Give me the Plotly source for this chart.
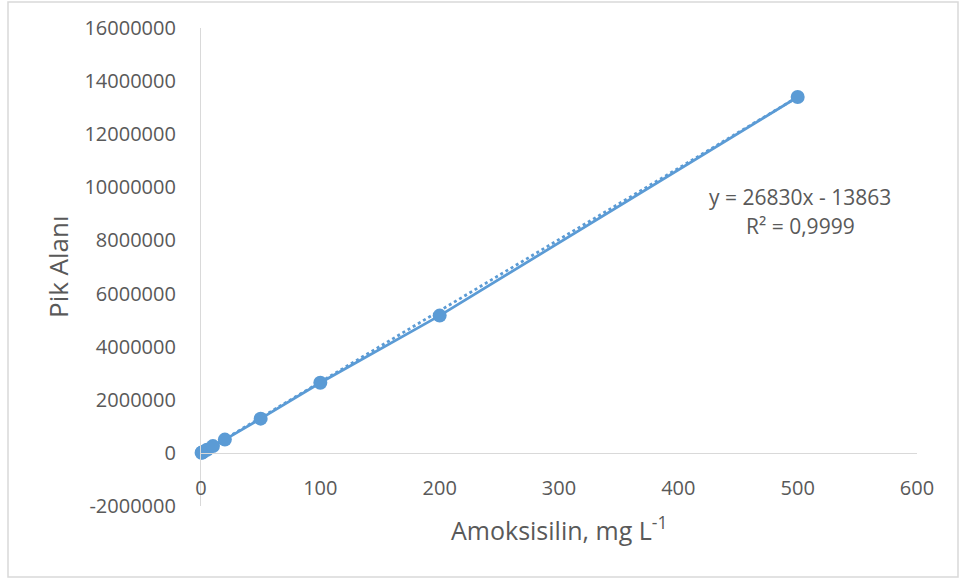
import plotly.graph_objects as go

# Calibration data: amoxicillin concentration (mg/L) vs. peak area
concentration = [0.5, 1, 2, 5, 10, 20, 50, 100, 200, 500]
peak_area = [5000, 15000, 45000, 120000, 255000, 500000, 1290000, 2640000, 5170000, 13400000]

# Linear trendline coefficients
slope = 26830
intercept = -13863
r_squared = "0,9999"

x_ticks = [0, 100, 200, 300, 400, 500, 600]
y_ticks = [-2000000, 0, 2000000, 4000000, 6000000, 8000000, 10000000,
           12000000, 14000000, 16000000]

blue = "#5B9BD5"
text_grey = "#595959"
axis_grey = "#D9D9D9"
font_family = "Open Sans"

trend_x = [min(concentration), max(concentration)]
trend_y = [slope * v + intercept for v in trend_x]

fig = go.Figure()
fig.add_trace(go.Scatter(
    x=trend_x, y=trend_y, mode="lines",
    line=dict(color=blue, width=2.75, dash="dot"),
    hoverinfo="skip", showlegend=False, cliponaxis=False,
))
fig.add_trace(go.Scatter(
    x=concentration, y=peak_area, mode="lines+markers",
    line=dict(color=blue, width=2.75),
    marker=dict(color=blue, size=14),
    showlegend=False, cliponaxis=False,
))

L, R, T, B = 201, 44, 28, 75
W, H = 961, 581
pw, ph = W - L - R, H - T - B


def px_to_paper(px, py):
    return (px - L) / pw, (H - B - py) / ph


bx0, by0 = px_to_paper(8, 577)
bx1, by1 = px_to_paper(958, 2)

fig.update_layout(
    width=W, height=H,
    margin=dict(l=L, r=R, t=T, b=B, pad=0),
    paper_bgcolor="white", plot_bgcolor="white",
    font=dict(family=font_family, color=text_grey, size=20),
    xaxis=dict(
        range=[0, 600], tickvals=x_ticks, ticktext=[str(v) for v in x_ticks],
        showgrid=False, zeroline=False, showline=True, linecolor=axis_grey,
        linewidth=1.2, ticks="", anchor="free",
        position=(0 - y_ticks[0]) / (y_ticks[-1] - y_ticks[0]),
        ticklabelstandoff=17, tickfont=dict(size=20, color=text_grey),
    ),
    yaxis=dict(
        range=[y_ticks[0], y_ticks[-1]], tickvals=y_ticks,
        ticktext=[str(v) for v in y_ticks],
        showgrid=False, zeroline=False, showline=True, linecolor=axis_grey,
        linewidth=1.2, ticks="", ticklabelstandoff=20,
        tickfont=dict(size=20, color=text_grey),
    ),
    shapes=[dict(
        type="rect", xref="paper", yref="paper",
        x0=bx0, y0=by0, x1=bx1, y1=by1,
        line=dict(color=axis_grey, width=1.5), layer="below",
    )],
)

tx, ty = px_to_paper(800, 197)
tx2, ty2 = px_to_paper(800, 226)
xt, yt = px_to_paper(559, 528)
yx, yy = px_to_paper(58, 267)

common = dict(xref="paper", yref="paper", showarrow=False,
              xanchor="center", yanchor="middle")
fig.add_annotation(x=tx, y=ty, text=f"y = {slope}x - {abs(intercept)}",
                   font=dict(size=21, color=text_grey), **common)
fig.add_annotation(x=tx2, y=ty2, text=f"R² = {r_squared}",
                   font=dict(size=21, color=text_grey), **common)
fig.add_annotation(x=xt, y=yt, text="Amoksisilin, mg L<sup>-1</sup>",
                   font=dict(size=25, color=text_grey), **common)
fig.add_annotation(x=yx, y=yy, text="Pik Alanı", textangle=-90,
                   font=dict(size=26, color=text_grey), **common)

fig.write_html("out.html")
